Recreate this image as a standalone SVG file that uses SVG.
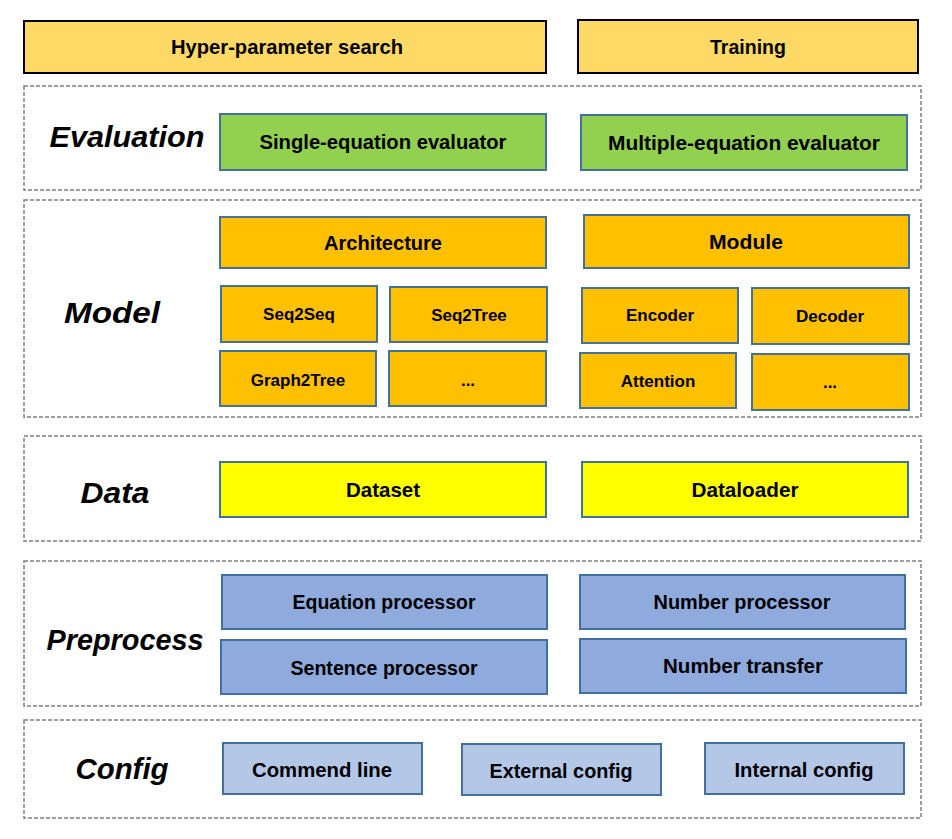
<svg xmlns="http://www.w3.org/2000/svg" width="952" height="839" viewBox="0 0 952 839">
<style>
text{font-family:"Liberation Sans",Arial,sans-serif;font-weight:bold;fill:#000;text-anchor:middle}
.t{font-size:20.5px}
.s{font-size:17px}
.lab{font-size:30px;font-style:italic}
.layer{fill:#fff;stroke:#7f7f7f;stroke-width:1.5;stroke-dasharray:4 2}
.top{fill:#FFD966;stroke:#000;stroke-width:2}
.b{stroke:#41719C;stroke-width:2}
.ev{fill:#92D050}
.md{fill:#FFC000}
.dt{fill:#FFFF00}
.pp{fill:#8FAADC}
.cf{fill:#B4C7E7}
</style>
<rect width="952" height="839" fill="#fff"/>
<g id="layers">
<rect class="layer" x="24" y="86" width="897" height="104"/>
<rect class="layer" x="24" y="200" width="897" height="217"/>
<rect class="layer" x="24" y="436" width="897" height="105"/>
<rect class="layer" x="24" y="561" width="897" height="145"/>
<rect class="layer" x="24" y="720" width="897" height="98"/>
</g>
<g id="labels">
<text class="lab" x="127" y="147" textLength="155" lengthAdjust="spacingAndGlyphs">Evaluation</text>
<text class="lab" x="112" y="323" textLength="96" lengthAdjust="spacingAndGlyphs">Model</text>
<text class="lab" x="115" y="503" textLength="69" lengthAdjust="spacingAndGlyphs">Data</text>
<text class="lab" x="125" y="650" textLength="157" lengthAdjust="spacingAndGlyphs">Preprocess</text>
<text class="lab" x="122" y="779" textLength="93" lengthAdjust="spacingAndGlyphs">Config</text>
</g>
<g id="hyper"><rect class="top" x="24" y="21" width="522" height="52"/><text class="t" x="287" y="54" textLength="232" lengthAdjust="spacingAndGlyphs">Hyper-parameter search</text></g>
<g id="training"><rect class="top" x="578" y="20" width="340" height="53"/><text class="t" x="748" y="54" textLength="76" lengthAdjust="spacingAndGlyphs">Training</text></g>
<g id="single-eval"><rect class="b ev" x="220" y="114" width="326" height="56"/><text class="t" x="383" y="149" textLength="247" lengthAdjust="spacingAndGlyphs">Single-equation evaluator</text></g>
<g id="multi-eval"><rect class="b ev" x="581" y="115" width="326" height="55"/><text class="t" x="744" y="150" textLength="272" lengthAdjust="spacingAndGlyphs">Multiple-equation evaluator</text></g>
<g id="architecture"><rect class="b md" x="220" y="217" width="326" height="51"/><text class="t" x="383" y="250" textLength="118" lengthAdjust="spacingAndGlyphs">Architecture</text></g>
<g id="module"><rect class="b md" x="584" y="215" width="325" height="53"/><text class="t" x="746" y="249" textLength="74" lengthAdjust="spacingAndGlyphs">Module</text></g>
<g id="seq2seq"><rect class="b md" x="221" y="286" width="156" height="56"/><text class="s" x="299" y="320">Seq2Seq</text></g>
<g id="seq2tree"><rect class="b md" x="390" y="287" width="157" height="55"/><text class="s" x="469" y="321">Seq2Tree</text></g>
<g id="graph2tree"><rect class="b md" x="220" y="351" width="156" height="55"/><text class="s" x="298" y="386">Graph2Tree</text></g>
<g id="arch-more"><rect class="b md" x="389" y="351" width="157" height="55"/><text class="s" x="468" y="386">...</text></g>
<g id="encoder"><rect class="b md" x="582" y="288" width="156" height="55"/><text class="s" x="660" y="321">Encoder</text></g>
<g id="decoder"><rect class="b md" x="752" y="288" width="157" height="56"/><text class="s" x="830" y="322">Decoder</text></g>
<g id="attention"><rect class="b md" x="580" y="353" width="156" height="55"/><text class="s" x="658" y="387">Attention</text></g>
<g id="module-more"><rect class="b md" x="752" y="354" width="157" height="56"/><text class="s" x="830" y="388">...</text></g>
<g id="dataset"><rect class="b dt" x="220" y="462" width="326" height="55"/><text class="t" x="383" y="497" textLength="74" lengthAdjust="spacingAndGlyphs">Dataset</text></g>
<g id="dataloader"><rect class="b dt" x="582" y="462" width="326" height="55"/><text class="t" x="745" y="497" textLength="107" lengthAdjust="spacingAndGlyphs">Dataloader</text></g>
<g id="equation-proc"><rect class="b pp" x="222" y="575" width="325" height="54"/><text class="t" x="384" y="609" textLength="183" lengthAdjust="spacingAndGlyphs">Equation processor</text></g>
<g id="number-proc"><rect class="b pp" x="580" y="575" width="325" height="54"/><text class="t" x="742" y="609" textLength="177" lengthAdjust="spacingAndGlyphs">Number processor</text></g>
<g id="sentence-proc"><rect class="b pp" x="221" y="640" width="326" height="54"/><text class="t" x="384" y="675" textLength="187" lengthAdjust="spacingAndGlyphs">Sentence processor</text></g>
<g id="number-transfer"><rect class="b pp" x="580" y="639" width="326" height="54"/><text class="t" x="743" y="673" textLength="160" lengthAdjust="spacingAndGlyphs">Number transfer</text></g>
<g id="commend-line"><rect class="b cf" x="223" y="743" width="199" height="51"/><text class="t" x="322" y="777" textLength="140" lengthAdjust="spacingAndGlyphs">Commend line</text></g>
<g id="external-config"><rect class="b cf" x="462" y="744" width="199" height="51"/><text class="t" x="561" y="778" textLength="143" lengthAdjust="spacingAndGlyphs">External config</text></g>
<g id="internal-config"><rect class="b cf" x="705" y="743" width="199" height="51"/><text class="t" x="804" y="777" textLength="139" lengthAdjust="spacingAndGlyphs">Internal config</text></g>
<g id="connectors"/>
</svg>
